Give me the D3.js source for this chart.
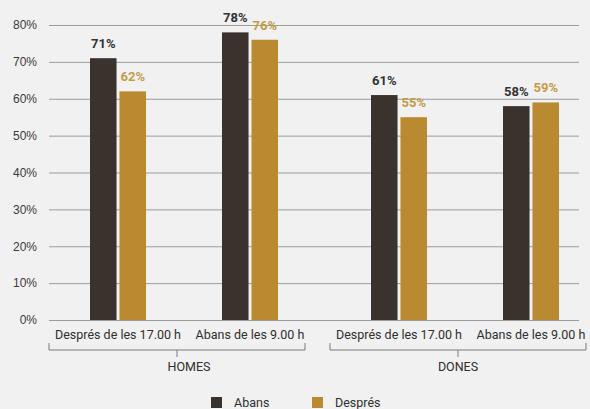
<!DOCTYPE html>
<html>
<head>
<meta charset="utf-8">
<script src="https://cdn.jsdelivr.net/npm/d3@7"></script>
<style>
  html, body { margin: 0; padding: 0; background: #f1f1f1; }
  svg { display: block; font-family: Roboto, "Liberation Sans", Arial, sans-serif; }
</style>
</head>
<body>
<svg id="chart" width="590" height="409"></svg>
<script>
const groups = ["HOMES", "DONES"];
const categories = ["Després de les 17.00 h", "Abans de les 9.00 h"];
const seriesNames = ["Abans", "Després"];
const abansValues = [71, 78, 61, 58];   // HOMES x2, DONES x2
const despresValues = [62, 76, 55, 59];
const yTicks = [0, 10, 20, 30, 40, 50, 60, 70, 80];

const colors = { "Abans": "#3a322d", "Després": "#b98a30" };
const labelColors = { "Abans": "#333333", "Després": "#c49b45" };

const data = [];
groups.forEach((g, gi) => {
  categories.forEach((c, ci) => {
    const idx = gi * categories.length + ci;
    data.push({ group: g, category: c, series: "Abans", value: abansValues[idx] });
    data.push({ group: g, category: c, series: "Després", value: despresValues[idx] });
  });
});

const svg = d3.select("#chart");

const y = d3.scaleLinear().domain([0, 80]).range([320, 25]);
const xGroup = d3.scaleBand().domain(groups).range([49, 586]).paddingInner(25 / 281).paddingOuter(0);
const xCat = d3.scalePoint().domain(categories).range([3, 267]).padding(0.5);
const xSeries = d3.scaleBand().domain(seriesNames).range([-28, 28]).paddingInner(0.1);

// gridlines + y labels
const yAxis = d3.axisLeft(y).tickValues(yTicks).tickSize(-530).tickFormat(d => d + "%");
const gy = svg.append("g").attr("transform", "translate(49,0)").call(yAxis);
gy.select(".domain").remove();
gy.selectAll(".tick line").attr("stroke", "#9c9c9c").attr("stroke-width", 1);
gy.selectAll(".tick text").attr("fill", "#3a3a3a").attr("font-size", 12).attr("x", -12);

// bars
const cx = d => xGroup(d.group) + xCat(d.category);
svg.append("g").selectAll("rect").data(data).join("rect")
  .attr("x", d => cx(d) + xSeries(d.series))
  .attr("width", xSeries.bandwidth())
  .attr("y", d => y(d.value))
  .attr("height", d => y(0) - y(d.value))
  .attr("fill", d => colors[d.series]);

// value labels
svg.append("g").selectAll("text").data(data).join("text")
  .attr("x", d => cx(d) + xSeries(d.series) + xSeries.bandwidth() / 2)
  .attr("y", d => y(d.value) - 10)
  .attr("text-anchor", "middle")
  .attr("font-size", 13)
  .attr("font-weight", 700)
  .attr("fill", d => labelColors[d.series])
  .text(d => d.value + "%");

// category labels
groups.forEach(g => {
  categories.forEach(c => {
    svg.append("text")
      .attr("x", xGroup(g) + xCat(c))
      .attr("y", 339)
      .attr("text-anchor", "middle")
      .attr("font-size", 12.5)
      .attr("fill", "#2f2f2f")
      .text(c);
  });
});

// brackets
const bw = xGroup.bandwidth();
groups.forEach(g => {
  const x0 = xGroup(g), x1 = x0 + bw, xm = x0 + bw / 2;
  svg.append("path")
    .attr("d", `M${x0},343V350H${x1}V343M${xm},350V357`)
    .attr("fill", "none")
    .attr("stroke", "#7a7a7a")
    .attr("stroke-width", 1);
  svg.append("text")
    .attr("x", xm + (g === "HOMES" ? 12 : 0))
    .attr("y", 371)
    .attr("text-anchor", "middle")
    .attr("font-size", 12.5)
    .attr("fill", "#2f2f2f")
    .text(g);
});

// legend
const legendX = [211, 312];
seriesNames.forEach((s, i) => {
  svg.append("rect").attr("x", legendX[i]).attr("y", 397).attr("width", 11).attr("height", 11).attr("fill", colors[s]);
  svg.append("text").attr("x", legendX[i] + 23).attr("y", 406.5)
    .attr("font-size", 12.5).attr("fill", "#2f2f2f").text(s);
});
</script>
</body>
</html>
